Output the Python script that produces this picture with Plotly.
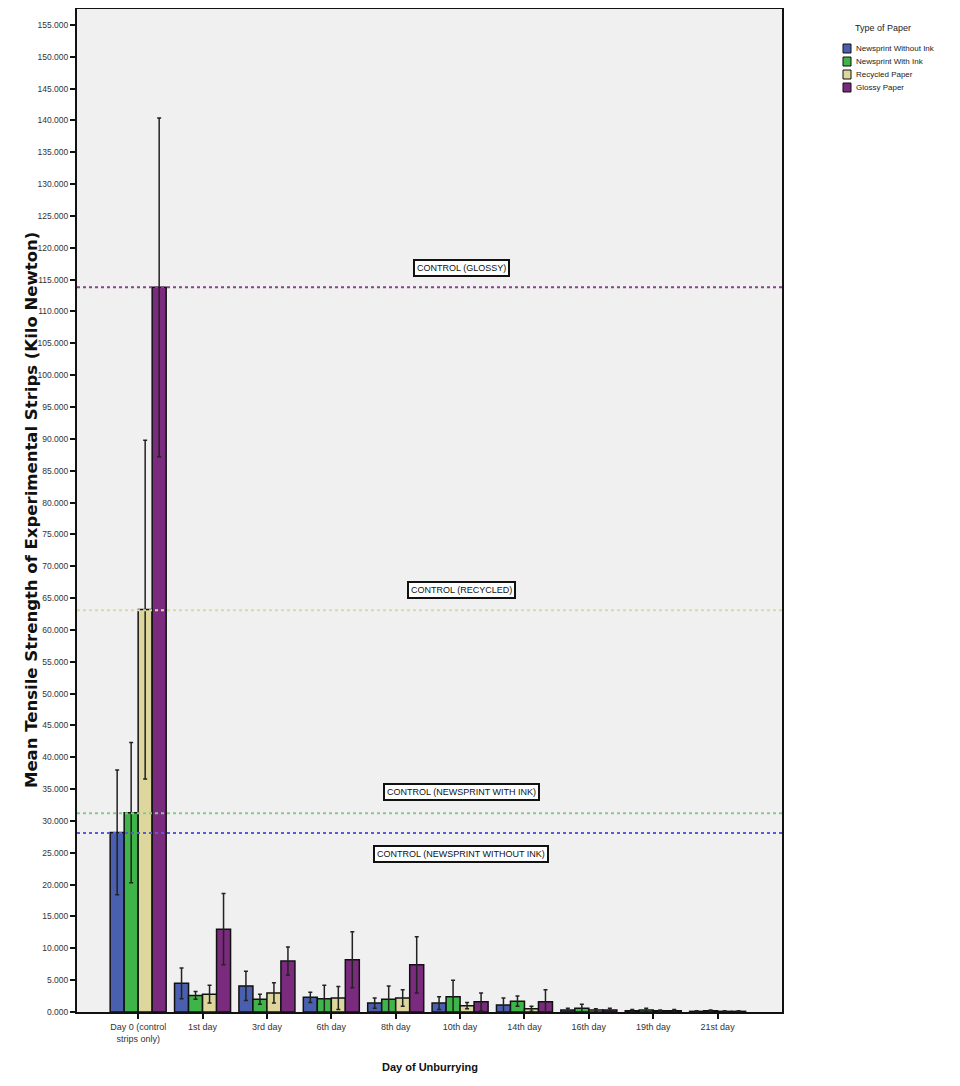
import plotly.graph_objects as go

categories = ["Day 0 (control<br>strips only)", "1st day", "3rd day", "6th day", "8th day",
              "10th day", "14th day", "16th day", "19th day", "21st day"]

series_names = ["Newsprint Without Ink", "Newsprint With Ink", "Recycled Paper", "Glossy Paper"]

without_ink = [28.2, 4.5, 4.1, 2.3, 1.4, 1.4, 1.1, 0.3, 0.2, 0.1]
without_ink_err = [9.8, 2.4, 2.3, 0.8, 0.8, 1.0, 1.1, 0.3, 0.2, 0.1]
with_ink = [31.3, 2.6, 2.0, 2.1, 2.0, 2.4, 1.7, 0.6, 0.3, 0.2]
with_ink_err = [11.0, 0.6, 0.8, 2.1, 2.1, 2.6, 0.8, 0.6, 0.3, 0.1]
recycled = [63.2, 2.8, 3.0, 2.2, 2.2, 1.0, 0.5, 0.3, 0.2, 0.1]
recycled_err = [26.6, 1.4, 1.6, 1.8, 1.3, 0.5, 0.4, 0.2, 0.1, 0.1]
glossy = [113.8, 13.0, 8.0, 8.2, 7.4, 1.6, 1.6, 0.3, 0.2, 0.1]
glossy_err = [26.6, 5.6, 2.2, 4.4, 4.4, 1.4, 1.9, 0.3, 0.2, 0.1]

control_names = ["CONTROL (GLOSSY)", "CONTROL (RECYCLED)",
                 "CONTROL (NEWSPRINT WITH INK)", "CONTROL (NEWSPRINT WITHOUT INK)"]
control_values = [113.8, 63.1, 31.2, 28.1]
control_label_y = [116.8, 66.2, 34.5, 24.8]
control_colors = ["#8e3f8e", "#d9d9a6", "#86c990", "#5a5ae0"]

bar_colors = ["#4a5fae", "#3fb449", "#ddd79e", "#7a2b7e"]

yticks = list(range(0, 160, 5))

FONT = "Liberation Sans, Arial, sans-serif"

# figure geometry (page body adds an 8px offset)
W, H = 952, 1078
ML, MR, MT, MB = 69, 178, 1, 74
PW = W - ML - MR
PH = H - MT - MB


def px_to_paper_x(fx):
    return (fx - ML) / PW


def px_to_paper_y(fy):
    return (H - MB - fy) / PH


fig = go.Figure()
for name, vals, errs, col in zip(series_names,
                                 [without_ink, with_ink, recycled, glossy],
                                 [without_ink_err, with_ink_err, recycled_err, glossy_err],
                                 bar_colors):
    fig.add_trace(go.Bar(
        x=categories, y=vals, name=name, showlegend=False,
        marker=dict(color=col, line=dict(color="#111111", width=1.5)),
        error_y=dict(type="data", array=errs, symmetric=True,
                     color="#222222", thickness=1.5, width=2),
    ))

for val, col in zip(control_values, control_colors):
    fig.add_shape(type="line", xref="paper", yref="y", x0=0, x1=1, y0=val, y1=val,
                  line=dict(color=col, width=2, dash="dot"), layer="above")

for name, ly in zip(control_names, control_label_y):
    fig.add_annotation(xref="paper", yref="y", x=px_to_paper_x(453), y=ly, text=name,
                       showarrow=False,
                       font=dict(family=FONT, size=9, color="#111111"),
                       bgcolor="white", bordercolor="#111111", borderwidth=2, borderpad=2)

# axis titles
fig.add_annotation(xref="paper", yref="paper", x=px_to_paper_x(12), y=0.5, textangle=-90,
                   text="<b>Mean Tensile Strength of Experimental Strips (Kilo Newton)</b>",
                   showarrow=False,
                   font=dict(family="DejaVu Sans, Liberation Sans", size=16.5, color="#111111"))
fig.add_annotation(xref="paper", yref="paper", x=0.5, y=px_to_paper_y(1067),
                   text="<b>Day of Unburrying</b>", showarrow=False,
                   font=dict(family=FONT, size=11, color="#111111"))

# legend (drawn manually to match compact layout)
fig.add_annotation(xref="paper", yref="paper", x=px_to_paper_x(875), y=px_to_paper_y(20),
                   text="Type of Paper", showarrow=False, xanchor="center", yanchor="middle",
                   font=dict(family=FONT, size=9, color="#222222"))
row_y = [40.5, 53.5, 66.5, 79.5]
for name, col, ry in zip(series_names, bar_colors, row_y):
    fig.add_shape(type="rect", xref="paper", yref="paper",
                  x0=px_to_paper_x(835), x1=px_to_paper_x(843),
                  y0=px_to_paper_y(ry + 4.5), y1=px_to_paper_y(ry - 4.5),
                  fillcolor=col, line=dict(color="#111111", width=1))
    fig.add_annotation(xref="paper", yref="paper", x=px_to_paper_x(846), y=px_to_paper_y(ry),
                       text=name, showarrow=False, xanchor="left", yanchor="middle",
                       font=dict(family=FONT, size=8, color="#222222"))

fig.update_layout(
    width=W, height=H,
    margin=dict(l=ML, r=MR, t=MT, b=MB, autoexpand=False),
    paper_bgcolor="white", plot_bgcolor="#f0f0f0",
    barmode="group", bargap=0.13, bargroupgap=0,
    font=dict(family=FONT, size=8, color="#333333"),
    showlegend=False,
    xaxis=dict(range=[-0.95, 10.0], showgrid=False, zeroline=False,
               showline=True, linecolor="#111111", linewidth=2, mirror=True,
               ticks="outside", ticklen=5, tickwidth=1.5, tickcolor="#111111",
               tickfont=dict(size=9, color="#333333")),
    yaxis=dict(range=[0, 157.5], tickvals=yticks, tickformat=".3f", showgrid=False,
               zeroline=False, showline=True, linecolor="#111111", linewidth=2, mirror=True,
               ticks="outside", ticklen=5, tickwidth=1.5, tickcolor="#111111",
               tickfont=dict(size=8.5, color="#333333")),
)

fig.write_html("out.html")
